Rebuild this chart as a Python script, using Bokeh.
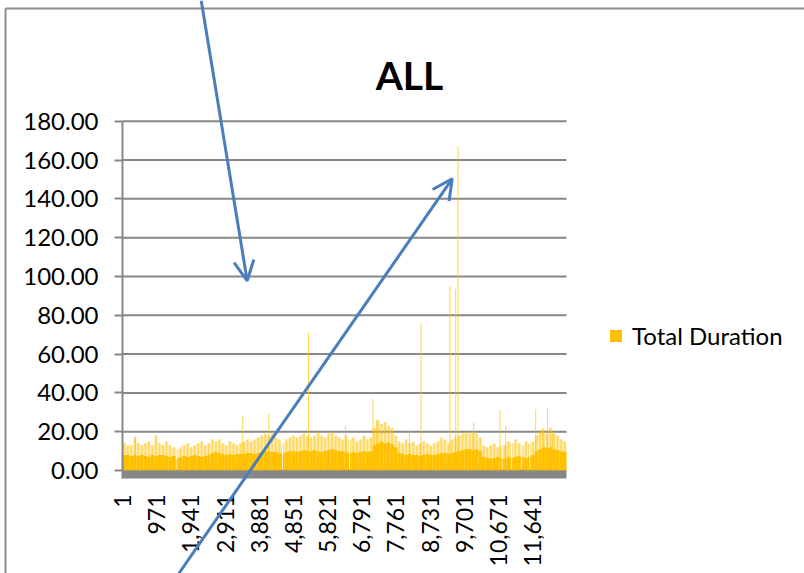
import math
from bokeh.plotting import figure
from bokeh.models import (ColumnDataSource, FixedTicker, NumeralTickFormatter, Legend, LegendItem,
                          BoxAnnotation, Arrow, OpenHead, Range1d, Label)
from bokeh.embed import file_html
from bokeh.resources import INLINE

# ---------------- data ----------------
N_ROWS = 12600          # number of categories (rows)
BIN = 100               # rows summarised by each value below

# typical (solid) height of the bars in each block of 100 rows
core_vals = [
    8, 8, 7.5, 8, 7.5, 8, 7.5, 7, 8, 7.5, 8, 8, 7.5, 7, 7.5, 6,
    7, 7.5, 7, 7.5, 8, 7.5, 7, 7.5, 8, 9, 9.5, 9, 8.5, 8, 8.5, 8, 8.5, 8.5,
    8.5, 9, 9, 8.5, 9, 9.5, 10, 10, 9.5, 9.5, 9, 8.5,
    9.5, 10, 10, 9.5, 10, 10.5, 10, 10, 10.5, 10, 9.5, 10, 10.5, 11, 10.5, 10, 10, 9.5,
    9, 9.5, 9, 9.5, 10, 9.5, 10,
    13, 14, 15, 14, 14.5, 13.5, 12,
    9, 8.5, 8, 8.5, 8, 8, 7.5, 8, 8.5, 8, 8, 8.5, 9, 9, 8.5,
    9, 9.5, 10, 10.5, 11, 11, 10.5, 11, 10,
    7, 6.5, 6, 6.5, 7, 6.5,
    6, 7, 6.5, 7, 7.5, 7, 6.5, 7, 8,
    10, 11, 12, 11.5, 12, 11, 10.5, 10, 9.5,
]
# highest bar in each block of 100 rows
peak_vals = [
    14, 13, 13, 17, 14, 13, 14, 15, 13, 18, 14, 13, 15, 13, 12, 11,
    12, 13, 14, 12, 13, 14, 15, 13, 14, 16, 15, 16, 14, 13, 15, 14, 13, 14,
    15, 16, 15, 16, 17, 18, 19, 18, 19, 17, 16, 14,
    16, 17, 18, 17, 18, 19, 18, 17, 18, 20, 18, 17, 19, 20, 18, 17, 16, 18,
    16, 17, 15, 16, 18, 16, 17,
    22, 26, 24, 25, 23, 22, 18,
    15, 14, 16, 14, 15, 13, 14, 15, 14, 13, 14, 15, 17, 16, 14,
    16, 17, 18, 19, 20, 19, 20, 19, 17,
    13, 12, 13, 14, 12, 13,
    13, 15, 14, 16, 14, 13, 15, 14, 15,
    18, 20, 21, 19, 22, 19, 18, 16, 15,
]
# isolated tall bars
spike_rows = [369, 3414, 4152, 5278, 6327, 7110, 7215, 8143, 8472, 9295, 9456, 9522,
              9967, 10713, 10875, 11726, 11925, 12058, 12200]
spike_vals = [17.7, 28, 29, 71, 23, 37, 26, 21, 76, 95, 93.5, 167,
              25, 31, 23, 31.5, 22, 32, 20]
# rows whose value is (nearly) zero
gap_rows = [1542, 4540, 6440, 10775, 11045, 11330, 11560]

y_ticks = [0, 20, 40, 60, 80, 100, 120, 140, 160, 180]
x_ticks = [1, 971, 1941, 2911, 3881, 4851, 5821, 6791, 7761, 8731, 9701, 10671, 11641]
series_name = "Total Duration"
title_text = "ALL"

# ---------------- page geometry (pixels) ----------------
W, H = 804, 573
PLOT_L, PLOT_R = 122.0, 566.0      # category axis extent
Y0_PX, YTOP_PX = 470.0, 120.7      # pixel rows of value 0 and value 180
BAND_PX = 8.0                      # thickness of the gray category-axis band

k = N_ROWS / (PLOT_R - PLOT_L)     # rows per pixel
s = 180.0 / (Y0_PX - YTOP_PX)      # value units per pixel


def px(xp):
    return 0.5 + (xp - PLOT_L) * k


def py(yp):
    return (Y0_PX - yp) * s


BAND_BOTTOM = -BAND_PX * s

# freehand arrows drawn over the chart (page pixels)
arrows_px = [((200.7, 0.0), (246.7, 280.3)), ((178.3, 573.0), (451.7, 178.3))]

# ---------------- build blocks (split at gap rows) ----------------
GAP_HALF = 12
lefts, rights, cores, peaks = [], [], [], []
for i, (c, pk) in enumerate(zip(core_vals, peak_vals)):
    lo, hi = i * BIN + 0.5, (i + 1) * BIN + 0.5
    start = lo
    for g in gap_rows:
        if lo < g < hi:
            lefts.append(start); rights.append(g - GAP_HALF); cores.append(c); peaks.append(pk)
            start = g + GAP_HALF
    lefts.append(start); rights.append(hi); cores.append(c); peaks.append(pk)

centers = [(a + b) / 2 for a, b in zip(lefts, rights)]
widths = [(b - a) * 0.5 for a, b in zip(lefts, rights)]
blocks = ColumnDataSource(dict(left=lefts, right=rights, core=cores, peak=peaks,
                               center=centers, width=widths, bottom=[0] * len(lefts)))
spikes = ColumnDataSource(dict(x=spike_rows, top=spike_vals))

ORANGE = "#FFC000"
GRAY = "#878787"
BLUE = "#4A7EBB"
FONT = "Lato"

p = figure(width=W, height=H, output_backend="svg", toolbar_location=None,
           x_range=Range1d(px(0), px(W)), y_range=Range1d(py(H), py(0)),
           min_border=0, background_fill_color="white", border_fill_color="white")
p.outline_line_color = None

# chart-area border (top and left)
p.segment(x0=[px(5), px(5)], y0=[py(8), py(8)], x1=[px(W), px(5)], y1=[py(8), py(H)],
          line_color="#8c8c8c", line_width=2)

# horizontal gridlines over the plot area
p.segment(x0=[0.5] * len(y_ticks), x1=[N_ROWS + 0.5] * len(y_ticks), y0=y_ticks, y1=y_ticks,
          line_color=GRAY, line_width=2)

# light layer: highest bars in each block (pale haze + streak)
p.quad(left="left", right="right", bottom="bottom", top="peak", source=blocks,
       fill_color=ORANGE, fill_alpha=0.3, line_color=None)
p.vbar(x="center", width="width", bottom="bottom", top="peak", source=blocks,
       fill_color=ORANGE, fill_alpha=0.45, line_color=None)
# solid layer: typical bars
r_core = p.quad(left="left", right="right", bottom="bottom", top="core", source=blocks,
                fill_color=ORANGE, fill_alpha=1.0, line_color=None)
# isolated tall bars
p.vbar(x="x", top="top", bottom=0, width=28, source=spikes,
       fill_color=ORANGE, fill_alpha=0.7, line_color=None)

# thick gray category axis band below zero
p.add_layout(BoxAnnotation(top=0, bottom=BAND_BOTTOM, left=0.5, right=N_ROWS + 0.5,
                           fill_color=GRAY, fill_alpha=1.0, line_color=None))

# axes placed at the plot-area edges
p.yaxis.fixed_location = 0.5
p.yaxis.bounds = (BAND_BOTTOM, 180)
p.yaxis.ticker = FixedTicker(ticks=y_ticks)
p.yaxis.formatter = NumeralTickFormatter(format="0.00")
p.yaxis.axis_line_color = GRAY
p.yaxis.axis_line_width = 2
p.yaxis.major_tick_line_color = GRAY
p.yaxis.major_tick_line_width = 2
p.yaxis.major_tick_out = 8
p.yaxis.major_tick_in = 0
p.yaxis.minor_tick_line_color = None
p.yaxis.major_label_standoff = 16
p.yaxis.major_label_text_font = FONT
p.yaxis.major_label_text_font_size = "24px"
p.yaxis.major_label_text_color = "black"

p.xaxis.fixed_location = BAND_BOTTOM
p.xaxis.bounds = (0.5, N_ROWS + 0.5)
p.xaxis.ticker = FixedTicker(ticks=x_ticks)
p.xaxis.formatter = NumeralTickFormatter(format="0,0")
p.xaxis.axis_line_color = None
p.xaxis.major_tick_line_color = None
p.xaxis.minor_tick_line_color = None
p.xaxis.major_label_orientation = math.pi / 2
p.xaxis.major_label_standoff = 10
p.xaxis.major_label_text_font = FONT
p.xaxis.major_label_text_font_size = "23px"
p.xaxis.major_label_text_color = "black"

p.xgrid.visible = False
p.ygrid.visible = False

# title
p.add_layout(Label(x=px(409), y=py(74), text=title_text, text_align="center",
                   text_baseline="alphabetic", text_font=FONT, text_font_style="bold",
                   text_font_size="39px", text_color="black"))

# legend
legend = Legend(items=[LegendItem(label=series_name, renderers=[r_core])],
                location=(608, H - 350), orientation="vertical")
legend.glyph_width = 15
legend.glyph_height = 15
legend.padding = 0
legend.margin = 0
legend.label_standoff = 9
legend.border_line_color = None
legend.background_fill_alpha = 0
legend.label_text_font = FONT
legend.label_text_font_size = "24px"
legend.label_text_color = "black"
p.add_layout(legend)

# arrows
for (xs, ys), (xe, ye) in arrows_px:
    p.add_layout(Arrow(x_start=px(xs), y_start=py(ys), x_end=px(xe), y_end=py(ye),
                       line_color=BLUE, line_width=3,
                       end=OpenHead(size=20, line_color=BLUE, line_width=3)))

open("out.html", "w").write(file_html(p, INLINE))
